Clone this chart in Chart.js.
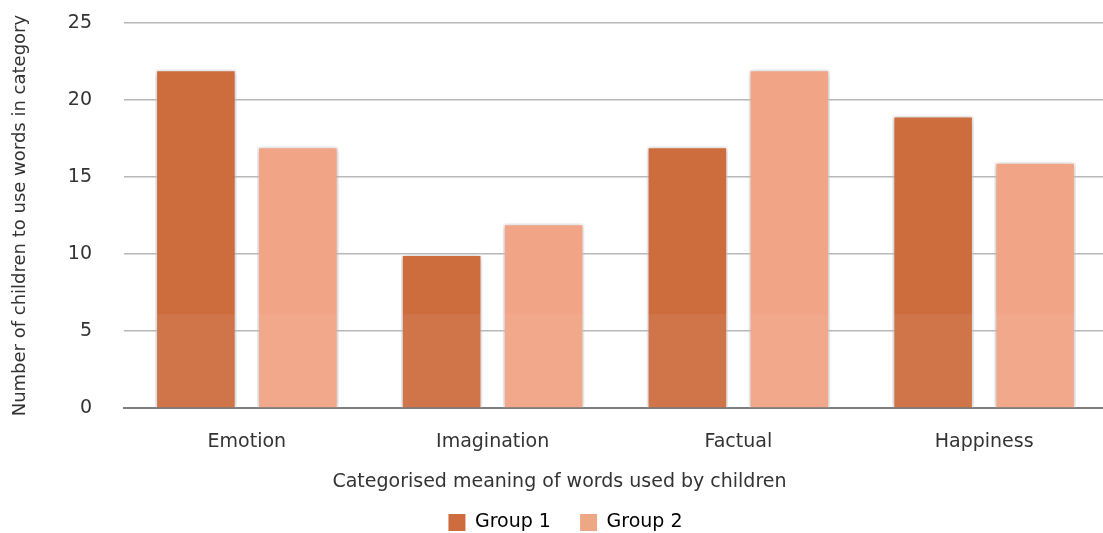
<!DOCTYPE html>
<html>
<head>
<meta charset="utf-8">
<script src="https://cdn.jsdelivr.net/npm/chart.js@4/dist/chart.umd.min.js"></script>
<style>
    html, body { margin: 0; padding: 0; background: #fff; overflow: hidden; }
    #wrap { position: relative; width: 1110px; height: 533px; }
</style>
</head>
<body>
<div id="wrap"><canvas id="chart"></canvas></div>
<script>
const categories = ['Emotion', 'Imagination', 'Factual', 'Happiness'];
const group1 = [22, 10, 17, 19];
const group2 = [17, 12, 22, 16];
const yTicks = [0, 5, 10, 15, 20, 25];

const FONT = '"DejaVu Sans", Verdana, sans-serif';
const TEXT = '#333333';

// bars are a touch lighter in their lower part, as in the original
function barFill(top, bottom) {
    return (context) => {
        const chart = context.chart;
        const area = chart.chartArea;
        if (!area) return top;
        const y = chart.scales.y;
        const split = (y.getPixelForValue(6.1) - area.top) / (area.bottom - area.top);
        const g = chart.ctx.createLinearGradient(0, area.top, 0, area.bottom);
        g.addColorStop(0, top);
        g.addColorStop(split, top);
        g.addColorStop(Math.min(split + 0.001, 1), bottom);
        g.addColorStop(1, bottom);
        return g;
    };
}

// soft shadow around the bars
const barShadow = {
    id: 'barShadow',
    beforeDatasetsDraw(chart) {
        const ctx = chart.ctx;
        ctx.save();
        ctx.shadowColor = 'rgba(0, 0, 0, 0.28)';
        ctx.shadowBlur = 6;
        ctx.shadowOffsetX = 0;
        ctx.shadowOffsetY = 1;
    },
    afterDatasetsDraw(chart) {
        chart.ctx.restore();
    }
};

// nudge the bottom title and legend to sit where the original has them
const nudge = {
    id: 'nudge',
    afterLayout(chart) {
        if (chart.legend) { chart.legend.left += 12; chart.legend.right += 12; }
        if (chart.titleBlock) { chart.titleBlock.left += 6; chart.titleBlock.right += 6; }
    }
};

new Chart(document.getElementById('chart'), {
    type: 'bar',
    data: {
        labels: categories,
        datasets: [
            {
                label: 'Group 1',
                data: group1,
                backgroundColor: barFill('#cd6c3d', '#d07549'),
                borderColor: 'rgba(255, 255, 255, 0.45)',
                borderWidth: 2,
                categoryPercentage: 0.83,
                barPercentage: 0.80
            },
            {
                label: 'Group 2',
                data: group2,
                backgroundColor: barFill('#f1a586', '#f2a98b'),
                borderColor: 'rgba(255, 255, 255, 0.45)',
                borderWidth: 2,
                categoryPercentage: 0.83,
                barPercentage: 0.80
            }
        ]
    },
    options: {
        responsive: true,
        maintainAspectRatio: false,
        animation: false,
        layout: { padding: { top: 23, right: 3, left: 0, bottom: -9 } },
        plugins: {
            tooltip: { enabled: false },
            title: {
                display: true,
                position: 'bottom',
                weight: 500,
                text: 'Categorised meaning of words used by children',
                color: TEXT,
                font: { family: FONT, size: 19, weight: 'normal' },
                padding: { top: 12, bottom: 15 }
            },
            legend: {
                position: 'bottom',
                weight: 1000,
                labels: {
                    color: TEXT,
                    font: { family: FONT, size: 19 },
                    boxWidth: 17,
                    boxHeight: 17,
                    padding: 5,
                    generateLabels(chart) {
                        const fills = ['#cd6c3d', '#eda785'];
                        // extra room after the first entry, as in the original
                        return chart.data.datasets.map((ds, i) => ({
                            text: i === 0 ? ds.label + '    ' : ds.label,
                            fillStyle: fills[i],
                            strokeStyle: fills[i],
                            lineWidth: 0,
                            datasetIndex: i
                        }));
                    }
                }
            }
        },
        scales: {
            x: {
                grid: { display: false, drawTicks: false },
                border: { display: true, color: '#7f7f7f', width: 2 },
                ticks: {
                    color: TEXT,
                    font: { family: FONT, size: 19 },
                    padding: 22
                },
                afterFit(scale) { scale.height = 50; }
            },
            y: {
                min: 0,
                max: 25,
                afterBuildTicks(scale) {
                    scale.ticks = yTicks.map(v => ({ value: v }));
                },
                grid: { color: '#b8b8b8', lineWidth: 1.5, drawTicks: false },
                border: { display: false },
                ticks: {
                    color: TEXT,
                    font: { family: FONT, size: 19 },
                    padding: 32
                },
                title: {
                    display: true,
                    text: 'Number of children to use words in category',
                    color: TEXT,
                    font: { family: FONT, size: 18 },
                    padding: { top: 10, bottom: 0 }
                },
                afterFit(scale) {
                    scale.width = 124;
                    scale.paddingTop = 0;
                    scale.paddingBottom = 0;
                }
            }
        }
    },
    plugins: [barShadow, nudge]
});
</script>
</body>
</html>
